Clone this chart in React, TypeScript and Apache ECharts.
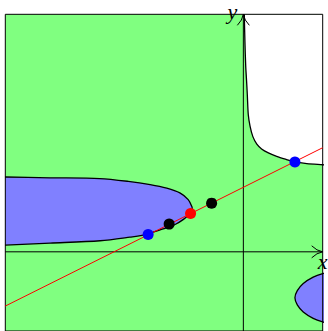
import React, { useEffect, useRef } from "react";
import * as echarts from "echarts";

const X_RANGE = [-6, 2];
const Y_RANGE = [-2, 6];

// Upper-right branch (boundary of the white region)
const branchX = [0.015, 0.024, 0.04, 0.06, 0.08, 0.1, 0.125, 0.17, 0.24, 0.34, 0.46, 0.63, 0.84, 1.09, 1.3, 1.6, 2.0, 2.4];
const branchY = [6.6, 6.0, 5.3, 4.68, 4.34, 3.97, 3.46, 3.17, 2.91, 2.72, 2.6, 2.5, 2.41, 2.33, 2.27, 2.23, 2.2, 2.17];

// Left loop (blue region opening to the left): upper edge to tip, then lower edge back
const loopX = [-6.6, -6.0, -4.87, -3.62, -2.9, -2.35, -1.93, -1.6, -1.39, -1.3, -1.29, -1.33, -1.51, -1.72, -2.02, -2.27, -2.4, -2.86, -3.61, -4.87, -6.0, -6.6];
const loopY = [1.9, 1.89, 1.87, 1.85, 1.78, 1.7, 1.61, 1.49, 1.32, 1.15, 1.08, 0.97, 0.82, 0.69, 0.58, 0.5, 0.44, 0.37, 0.28, 0.22, 0.17, 0.16];

// Lower-right oval piece
const ovalX = [2.4, 2.0, 1.76, 1.51, 1.36, 1.3, 1.36, 1.51, 1.76, 2.0, 2.4];
const ovalY = [-0.45, -0.55, -0.64, -0.8, -0.98, -1.16, -1.34, -1.52, -1.68, -1.77, -1.87];

// Secant line
const lineX = [-6, 2];
const lineY = [-1.37, 2.63];

// Points
const bluePtsX = [-2.4, 1.3];
const bluePtsY = [0.44, 2.27];
const redPtsX = [-1.33];
const redPtsY = [0.97];
const blackPtsX = [-1.87, -0.8];
const blackPtsY = [0.7, 1.23];

const axisLabels = ["x", "y"];

const zip = (xs: number[], ys: number[]) => xs.map((x, i) => [x, ys[i]]);

export default function App() {
  const ref = useRef<HTMLDivElement>(null);
  useEffect(() => {
    if (!ref.current) return;
    const chart = echarts.init(ref.current, null, { renderer: "svg" });

    const polySeries = (pts: number[][], fill: string, z: number) => ({
      type: "custom",
      clip: true,
      z,
      silent: true,
      data: [[X_RANGE[0], Y_RANGE[0]]],
      renderItem: (_p: any, api: any) => ({
        type: "polygon",
        shape: { points: pts.map((p) => api.coord(p)), smooth: 0.3 },
        style: { fill, stroke: "#000", lineWidth: 1.3 },
      }),
    });

    const option: any = {
      animation: false,
      grid: {
        left: 5.3,
        top: 14.3,
        width: 317.4,
        height: 317.4,
        show: true,
        backgroundColor: "#80ff80",
        borderWidth: 0,
      },
      xAxis: { type: "value", min: X_RANGE[0], max: X_RANGE[1], show: false },
      yAxis: { type: "value", min: Y_RANGE[0], max: Y_RANGE[1], show: false },
      series: [
        polySeries(zip(branchX, branchY).concat([[2.4, 6.6]]), "#ffffff", 1),
        polySeries(zip(loopX, loopY), "#8080ff", 2),
        polySeries(zip(ovalX, ovalY), "#8080ff", 2),
        {
          type: "custom",
          clip: false,
          z: 3,
          silent: true,
          data: [[0, 0]],
          renderItem: (_p: any, api: any) => {
            const xl = api.coord([X_RANGE[0], 0]);
            const xr = api.coord([X_RANGE[1], 0]);
            const yb = api.coord([0, Y_RANGE[0]]);
            const yt = api.coord([0, Y_RANGE[1]]);
            const tl = api.coord([X_RANGE[0], Y_RANGE[1]]);
            const br = api.coord([X_RANGE[1], Y_RANGE[0]]);
            const st = { stroke: "#000", lineWidth: 1, fill: "none" };
            return {
              type: "group",
              children: [
                { type: "line", shape: { x1: xl[0], y1: xl[1], x2: xr[0], y2: xr[1] }, style: st },
                { type: "line", shape: { x1: yb[0], y1: yb[1], x2: yt[0], y2: yt[1] }, style: st },
                { type: "bezierCurve", shape: { x1: xr[0], y1: xr[1], cpx1: xr[0] - 6, cpy1: xr[1] - 1, x2: xr[0] - 11, y2: xr[1] - 6 }, style: st },
                { type: "bezierCurve", shape: { x1: xr[0], y1: xr[1], cpx1: xr[0] - 6, cpy1: xr[1] + 1, x2: xr[0] - 11, y2: xr[1] + 6 }, style: st },
                { type: "bezierCurve", shape: { x1: yt[0], y1: yt[1], cpx1: yt[0] - 1, cpy1: yt[1] + 6, x2: yt[0] - 6, y2: yt[1] + 11 }, style: st },
                { type: "bezierCurve", shape: { x1: yt[0], y1: yt[1], cpx1: yt[0] + 1, cpy1: yt[1] + 6, x2: yt[0] + 6, y2: yt[1] + 11 }, style: st },
                { type: "rect", shape: { x: tl[0], y: tl[1], width: br[0] - tl[0], height: br[1] - tl[1] }, style: st },
                {
                  type: "text",
                  x: xr[0],
                  y: xr[1] + 9.5,
                  style: { text: axisLabels[0], fill: "#000", font: 'italic 22px "Liberation Serif"', textAlign: "center", textVerticalAlign: "middle" },
                },
                {
                  type: "text",
                  x: yt[0] - 11,
                  y: yt[1] - 3.2,
                  style: { text: axisLabels[1], fill: "#000", font: 'italic 22px "Liberation Serif"', textAlign: "center", textVerticalAlign: "middle" },
                },
              ],
            };
          },
        },
        {
          type: "line",
          z: 4,
          silent: true,
          symbol: "none",
          data: zip(lineX, lineY),
          lineStyle: { color: "#ff0000", width: 1 },
        },
        {
          type: "scatter",
          z: 5,
          symbolSize: 11,
          data: zip(bluePtsX, bluePtsY),
          itemStyle: { color: "#0000ff", opacity: 1 },
        },
        {
          type: "scatter",
          z: 5,
          symbolSize: 11,
          data: zip(redPtsX, redPtsY),
          itemStyle: { color: "#ff0000", opacity: 1 },
        },
        {
          type: "scatter",
          z: 5,
          symbolSize: 11,
          data: zip(blackPtsX, blackPtsY),
          itemStyle: { color: "#000000", opacity: 1 },
        },
      ],
    };
    chart.setOption(option);
    return () => chart.dispose();
  }, []);
  return <div ref={ref} style={{ position: "absolute", left: 0, top: 0, width: 328, height: 331 }} />;
}
